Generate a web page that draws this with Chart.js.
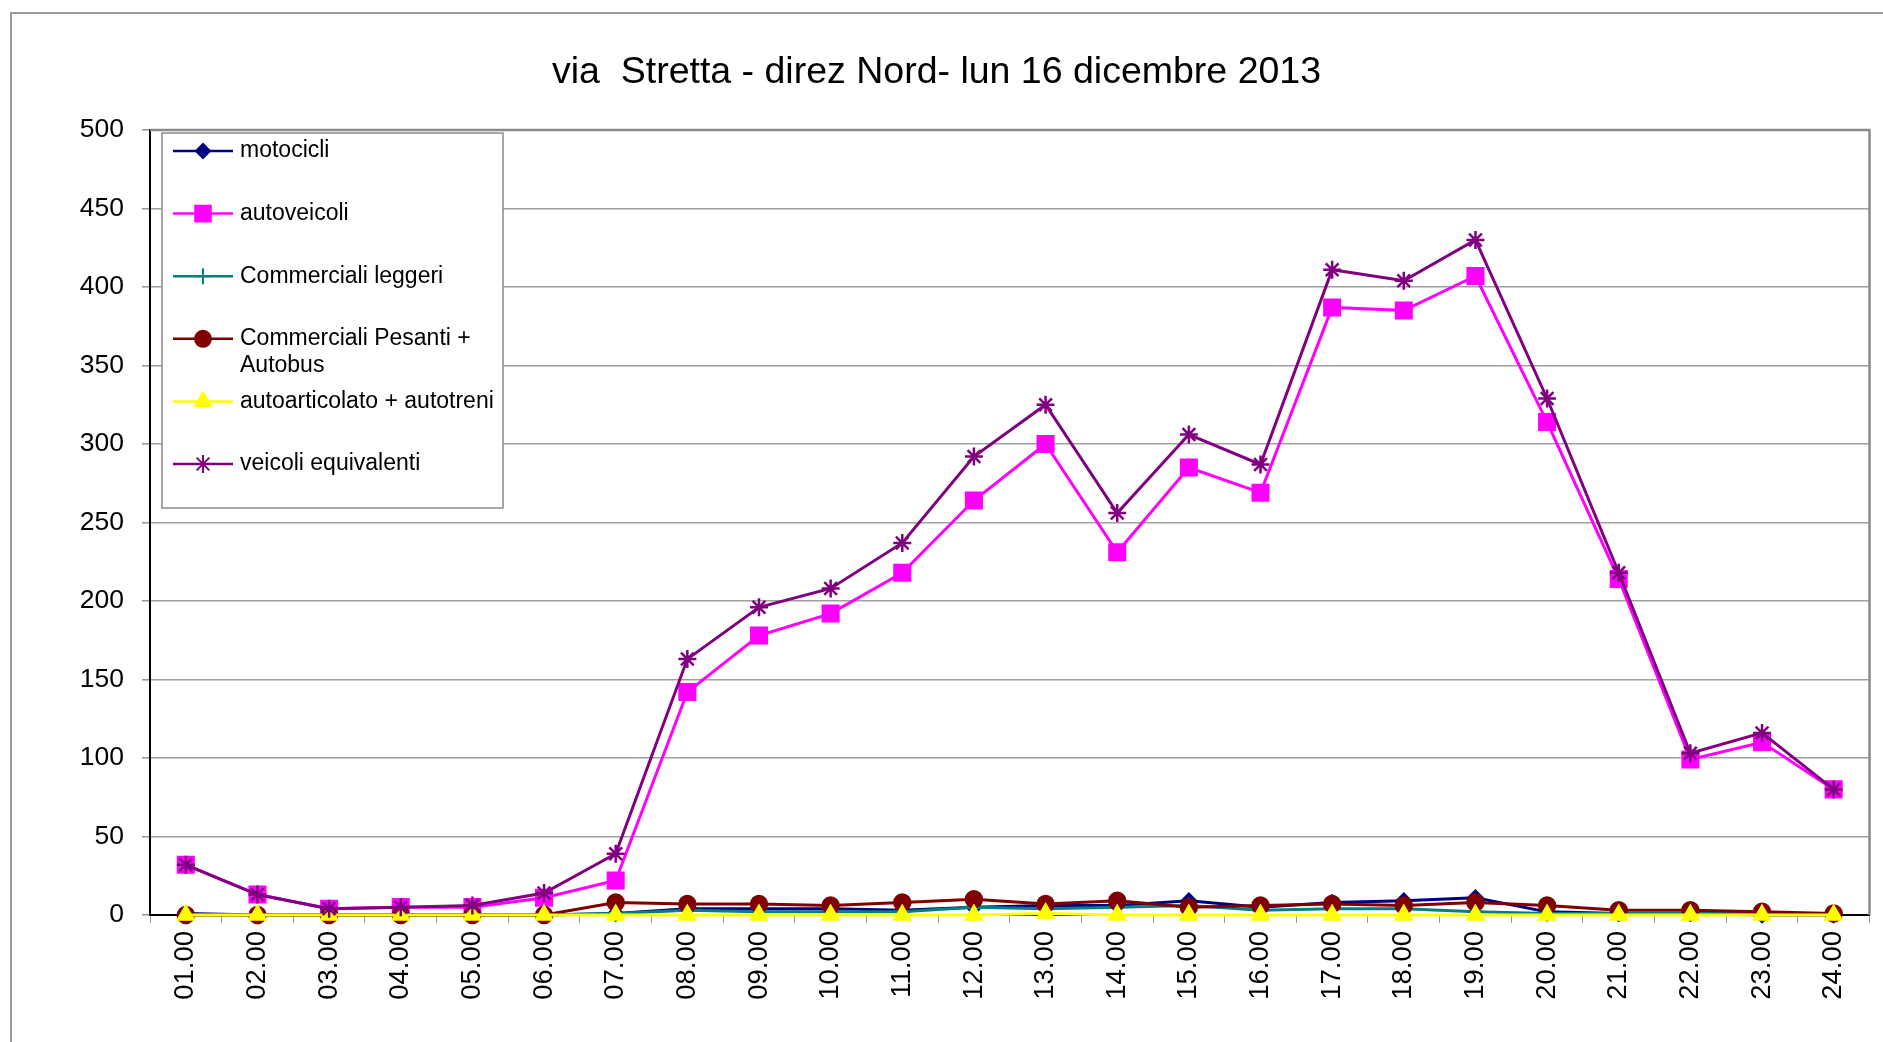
<!DOCTYPE html>
<html>
<head>
<meta charset="utf-8">
<script src="https://cdn.jsdelivr.net/npm/chart.js"></script>
<style>
  body { margin: 0; background: #fff; }
  #frame { position: absolute; left: 10px; top: 12px; width: 1900px; height: 1100px;
           border-left: 2px solid #9a9a9a; border-top: 2px solid #9a9a9a; }
  #chart { position: absolute; left: 0; top: 0; }
</style>
</head>
<body>
<div id="frame"></div>
<canvas id="chart" width="1883" height="1042"></canvas>
<script>
var hours = ["01.00", "02.00", "03.00", "04.00", "05.00", "06.00", "07.00", "08.00",
             "09.00", "10.00", "11.00", "12.00", "13.00", "14.00", "15.00", "16.00",
             "17.00", "18.00", "19.00", "20.00", "21.00", "22.00", "23.00", "24.00"];

var motocicli      = [1, 0, 0, 0, 0, 0, 1, 4, 4, 4, 3, 5, 6, 6, 9, 5, 8, 9, 11, 2, 1, 1, 0, 0];
var autoveicoli    = [32, 13, 4, 5, 5, 11, 22, 142, 178, 192, 218, 264, 300, 231, 285, 269, 387, 385, 407, 314, 214, 99, 110, 80];
var commLeggeri    = [0, 0, 0, 0, 0, 0, 1, 3, 2, 2, 2, 5, 4, 5, 6, 3, 4, 4, 2, 1, 1, 1, 1, 0];
var commPesanti    = [0, 0, 0, 0, 0, 0, 8, 7, 7, 6, 8, 10, 7, 9, 5, 6, 7, 6, 8, 6, 3, 3, 2, 1];
var autoarticolato = [0, 0, 0, 0, 0, 0, 0, 0, 0, 0, 0, 0, 1, 0, 0, 0, 0, 0, 0, 0, 0, 0, 0, 0];
var veicoliEquiv   = [32, 13, 4, 5, 6, 14, 39, 163, 196, 208, 237, 292, 325, 256, 306, 287, 411, 404, 430, 329, 218, 103, 116, 80];

var yTicks = [0, 50, 100, 150, 200, 250, 300, 350, 400, 450, 500];

var fontFamily = '"Liberation Sans", Arial, sans-serif';

function serie(label, data, color, style, radius, order) {
    return {
        label: label,
        data: data,
        borderColor: color,
        backgroundColor: color,
        borderWidth: 3,
        pointStyle: style,
        pointRadius: radius,
        pointBorderWidth: 2.5,
        pointBackgroundColor: color,
        pointBorderColor: color,
        tension: 0,
        clip: false,
        order: order
    };
}

var datasets = [
    serie("motocicli", motocicli, "#000080", "rectRot", 7, 5),
    serie("autoveicoli", autoveicoli, "#ff00ff", "rect", 11, 4),
    serie("Commerciali leggeri", commLeggeri, "#008080", "cross", 8, 3),
    serie("Commerciali Pesanti + Autobus", commPesanti, "#800000", "circle", 8, 2),
    serie("autoarticolato + autotreni", autoarticolato, "#ffff00", "triangle", 9, 1),
    serie("veicoli equivalenti", veicoliEquiv, "#800080", "star", 9, 0)
];

// legend box drawn inside the plot, top left
var legendBox = {
    id: "legendBox",
    afterDraw: function(chart) {
        var ctx = chart.ctx;
        var area = chart.chartArea;
        var x0 = area.left + 12, y0 = area.top + 3;
        var w = 341, h = 375;
        ctx.save();
        ctx.fillStyle = "#fff";
        ctx.fillRect(x0, y0, w, h);
        ctx.strokeStyle = "#8a8a8a";
        ctx.lineWidth = 1.5;
        ctx.strokeRect(x0, y0, w, h);
        ctx.font = "23px " + fontFamily;
        ctx.textBaseline = "middle";
        var maxText = w - 80;
        chart.data.datasets.forEach(function(ds, i) {
            var y = y0 + 18 + i * 62.6;
            ctx.strokeStyle = ds.borderColor;
            ctx.fillStyle = ds.borderColor;
            ctx.lineWidth = 2.5;
            ctx.beginPath();
            ctx.moveTo(x0 + 11, y);
            ctx.lineTo(x0 + 71, y);
            ctx.stroke();
            ctx.lineWidth = 2;
            Chart.helpers.drawPoint(ctx, {
                pointStyle: ds.pointStyle,
                radius: ds.pointRadius,
                borderWidth: 2,
                rotation: 0
            }, x0 + 41, y);
            // wrap long labels
            var words = ds.label.split(" ");
            var lines = [], cur = "";
            words.forEach(function(wd) {
                var test = cur ? cur + " " + wd : wd;
                if (ctx.measureText(test).width > maxText && cur) {
                    lines.push(cur);
                    cur = wd;
                } else {
                    cur = test;
                }
            });
            lines.push(cur);
            ctx.fillStyle = "#000";
            lines.forEach(function(t, k) {
                ctx.fillText(t, x0 + 78, y + k * 27);
            });
        });
        ctx.restore();
    }
};

// gray frame on top and right of the plot
var plotFrame = {
    id: "plotFrame",
    beforeDatasetsDraw: function(chart) {
        var ctx = chart.ctx;
        var a = chart.chartArea;
        ctx.save();
        ctx.strokeStyle = "#8a8a8a";
        ctx.lineWidth = 2.5;
        ctx.beginPath();
        ctx.moveTo(a.left, a.top);
        ctx.lineTo(a.right, a.top);
        ctx.lineTo(a.right, a.bottom);
        ctx.stroke();
        ctx.restore();
    }
};

var chart = new Chart(document.getElementById("chart"), {
    type: "line",
    data: {
        labels: hours,
        datasets: datasets
    },
    options: {
        responsive: false,
        animation: false,
        layout: {
            padding: { top: 0, left: 0, right: 10, bottom: 0 }
        },
        plugins: {
            legend: { display: false },
            tooltip: { enabled: false },
            title: {
                display: true,
                text: "via  Stretta - direz Nord- lun 16 dicembre 2013",
                color: "#000",
                font: { family: fontFamily, size: 37.5, weight: "normal" },
                padding: { top: 50, bottom: 35 }
            }
        },
        scales: {
            x: {
                offset: true,
                afterFit: function(scale) { scale.height = 127; },
                border: { color: "#000", width: 2 },
                grid: {
                    offset: true,
                    drawOnChartArea: false,
                    drawTicks: true,
                    tickLength: 8,
                    tickColor: "#9a9a9a"
                },
                ticks: {
                    autoSkip: false,
                    minRotation: 90,
                    maxRotation: 90,
                    padding: 8,
                    color: "#000",
                    font: { family: fontFamily, size: 27.5 }
                }
            },
            y: {
                min: yTicks[0],
                max: yTicks[yTicks.length - 1],
                afterFit: function(scale) { scale.width = 150; },
                afterBuildTicks: function(scale) {
                    scale.ticks = yTicks.map(function(v) { return { value: v }; });
                },
                border: { color: "#000", width: 2 },
                grid: {
                    color: "#a0a0a0",
                    lineWidth: 1.6,
                    tickLength: 8,
                    tickColor: "#9a9a9a"
                },
                ticks: {
                    padding: 18,
                    color: "#000",
                    font: { family: fontFamily, size: 26.5 }
                }
            }
        }
    },
    plugins: [plotFrame, legendBox]
});
</script>
</body>
</html>
